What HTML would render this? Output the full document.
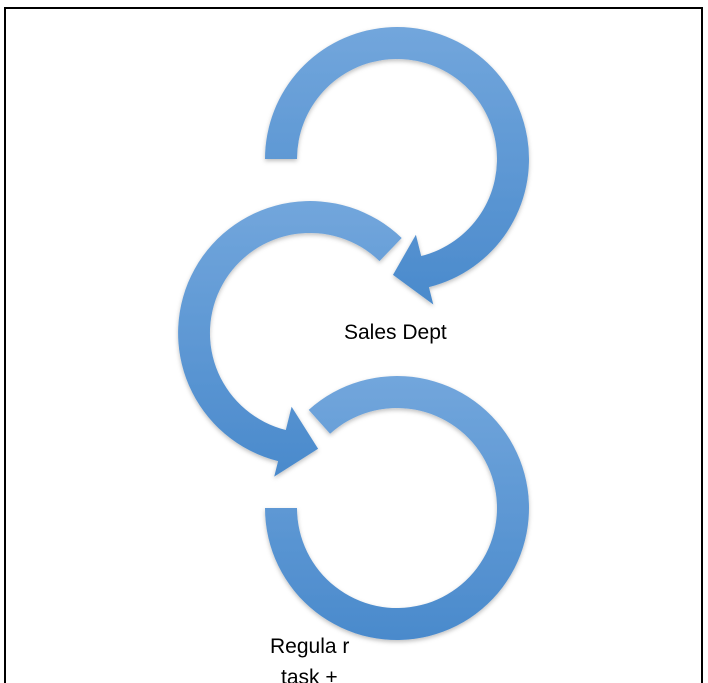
<!DOCTYPE html>
<html><head><meta charset="utf-8"><style>
html,body{margin:0;padding:0;background:#fff;width:708px;height:683px;overflow:hidden}
svg{position:absolute;left:0;top:0}
</style></head><body>
<svg id="s" width="708" height="683" viewBox="0 0 708 683" xmlns="http://www.w3.org/2000/svg">
<defs>
<linearGradient id="g" x1="0" y1="0" x2="0" y2="1">
<stop offset="0" stop-color="#72a6dc"/><stop offset="1" stop-color="#4a8acc"/>
</linearGradient>
<filter id="sh" x="-10%" y="-10%" width="120%" height="120%"><feDropShadow dx="0" dy="2" stdDeviation="2" flood-color="#000" flood-opacity="0.25"/></filter>
</defs>
<rect x="5" y="8" width="697" height="690" fill="none" stroke="#000" stroke-width="2"/>
<g id="arcs" filter="url(#sh)"></g>
<text x="344" y="339" font-family="Liberation Sans, sans-serif" font-size="21" fill="#000">Sales Dept</text>
<text x="270" y="653" font-family="Liberation Sans, sans-serif" font-size="21" fill="#000">Regula r</text>
<text x="281" y="684" font-family="Liberation Sans, sans-serif" font-size="21" fill="#000">task +</text>
</svg>
<script>
function P(cx,cy,r,a){a=a*Math.PI/180;return (cx+r*Math.cos(a)).toFixed(1)+" "+(cy+r*Math.sin(a)).toFixed(1);}
function ring(cx,cy,ro,ri,a0,a1,arrow){
 var dir=a1>a0?1:-1, sweep=Math.abs(a1-a0), large=sweep>180?1:0, sf=dir>0?1:0;
 var d="M"+P(cx,cy,ro,a0)+" A"+ro+" "+ro+" 0 "+large+" "+sf+" "+P(cx,cy,ro,a1);
 if(arrow){
  var rm=(ro+ri)/2;
  d+=" L"+P(cx,cy,arrow.rout,a1)+" L"+P(cx,cy,rm,arrow.tip)+" L"+P(cx,cy,arrow.rin,a1)+" L"+P(cx,cy,ri,a1);
 } else d+=" L"+P(cx,cy,ri,a1);
 d+=" A"+ri+" "+ri+" 0 "+large+" "+(1-sf)+" "+P(cx,cy,ri,a0)+" Z";
 return '<path d="'+d+'" fill="url(#g)"/>';
}
var h="";
h+=ring(397,159,132,100,180,436,{rout:150,rin:78,tip:452});
h+=ring(310,333,132,100,314,104,{rout:148,rin:76,tip:86});
h+=ring(397,508,132,100,228,540,null);
document.getElementById("arcs").innerHTML=h;
</script>
</body></html>
